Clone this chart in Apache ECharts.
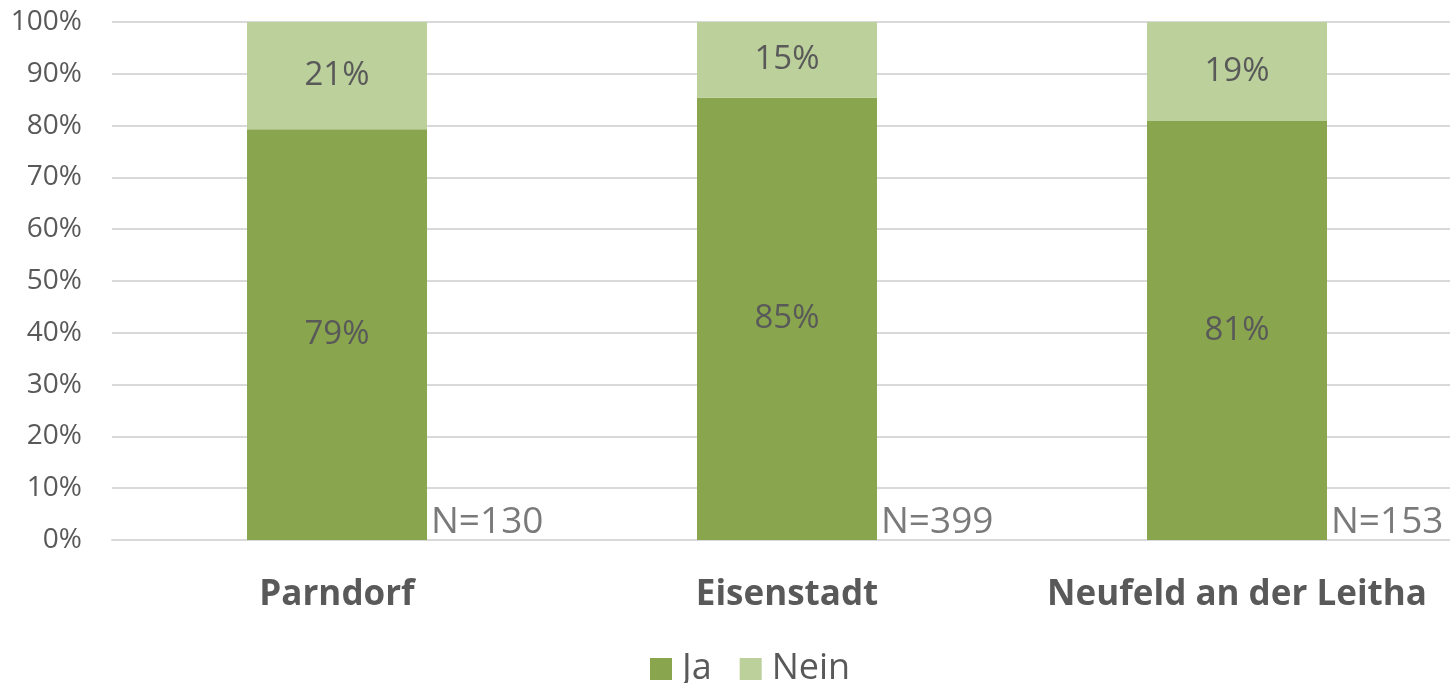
<!DOCTYPE html>
<html>
<head>
<meta charset="utf-8">
<script src="https://cdn.jsdelivr.net/npm/echarts@6/dist/echarts.min.js"></script>
<style>
  html, body { margin: 0; padding: 0; background: #fff; }
  #chart { width: 1450px; height: 683px; }
</style>
</head>
<body>
<div id="chart"></div>
<script>
var categories = ['Parndorf', 'Eisenstadt', 'Neufeld an der Leitha'];
var jaValues = [79.3, 85.4, 80.9];
var neinValues = [20.7, 14.6, 19.1];
var sampleSizes = [130, 399, 153];
var yTicks = [0, 10, 20, 30, 40, 50, 60, 70, 80, 90, 100];

var textColor = '#595959';
var fontName = '"Open Sans", "Noto Sans", sans-serif';

var myChart = echarts.init(document.getElementById('chart'));

var pctLabel = {
  show: true,
  position: 'inside',
  color: textColor,
  fontSize: 33,
  fontFamily: fontName,
  formatter: function (p) { return Math.round(p.value) + '%'; }
};

var option = {
  animation: false,
  textStyle: { fontFamily: fontName },
  grid: { left: 112, top: 22, right: -12, bottom: 143, outerBoundsMode: 'none' },
  legend: {
    top: 646,
    left: 645,
    itemWidth: 22,
    itemHeight: 22,
    itemGap: 28,
    icon: 'rect',
    textStyle: { color: textColor, fontSize: 36, fontFamily: fontName, padding: [0, 0, 0, 5] },
    data: ['Ja', 'Nein']
  },
  xAxis: {
    type: 'category',
    data: categories,
    axisLine: { lineStyle: { color: '#d9d9d9', width: 2 } },
    axisTick: { show: false },
    axisLabel: {
      interval: 0,
      color: textColor,
      fontSize: 35,
      fontWeight: 'bold',
      fontFamily: fontName,
      margin: 38
    }
  },
  yAxis: {
    type: 'value',
    min: yTicks[0],
    max: yTicks[yTicks.length - 1],
    interval: 10,
    axisLine: { show: false },
    axisTick: { show: false },
    splitLine: { lineStyle: { color: '#d9d9d9', width: 2 } },
    axisLabel: {
      color: textColor,
      fontSize: 28,
      fontFamily: fontName,
      margin: 30,
      formatter: '{value}%'
    }
  },
  series: [
    {
      name: 'Ja',
      type: 'bar',
      stack: 'total',
      barWidth: 180,
      data: jaValues,
      itemStyle: { color: '#89a54e' },
      label: pctLabel
    },
    {
      name: 'Nein',
      type: 'bar',
      stack: 'total',
      barWidth: 180,
      data: neinValues,
      itemStyle: { color: '#bbd09a' },
      label: pctLabel
    },
    {
      name: 'N',
      type: 'scatter',
      symbolSize: 0,
      silent: true,
      data: sampleSizes.map(function (n, i) { return { value: [i, 0], n: n }; }),
      label: {
        show: true,
        position: 'right',
        distance: 0,
        offset: [94, -18],
        color: textColor,
        fontSize: 37,
        fontFamily: fontName,
        formatter: function (p) { return 'N=' + p.data.n; }
      }
    }
  ]
};

myChart.setOption(option);
</script>
</body>
</html>
